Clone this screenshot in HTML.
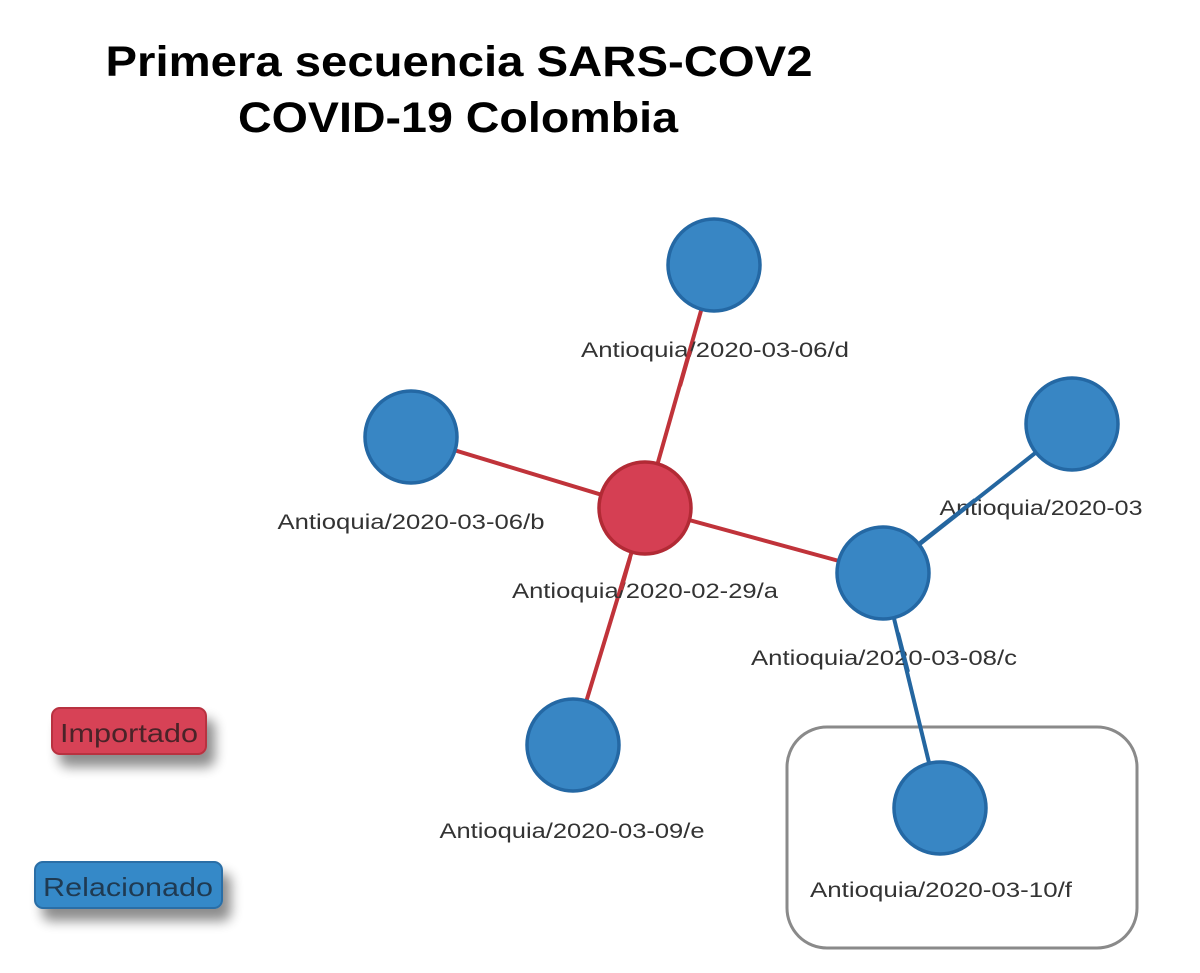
<!DOCTYPE html>
<html><head><meta charset="utf-8"><style>
html,body{margin:0;padding:0;background:#fff;width:1200px;height:973px;overflow:hidden}
svg{display:block}
text{font-family:"Liberation Sans",sans-serif}
</style></head><body>
<svg width="1200" height="973" viewBox="0 0 1200 973" xmlns="http://www.w3.org/2000/svg">
<defs>
<filter id="sh" x="-30%" y="-50%" width="170%" height="250%">
<feGaussianBlur in="SourceAlpha" stdDeviation="6"/>
<feOffset dx="8" dy="12"/>
<feComponentTransfer><feFuncA type="linear" slope="0.45"/></feComponentTransfer>
<feMerge><feMergeNode/><feMergeNode in="SourceGraphic"/></feMerge>
</filter>
</defs>
<text x="459" y="76" font-size="43" font-weight="bold" text-anchor="middle" textLength="707" lengthAdjust="spacingAndGlyphs">Primera secuencia  SARS-COV2</text>
<text x="458" y="132" font-size="43" font-weight="bold" text-anchor="middle" textLength="440" lengthAdjust="spacingAndGlyphs">COVID-19 Colombia</text>

<rect x="787" y="727" width="350" height="221" rx="40" fill="none" stroke="#8a8a8a" stroke-width="3"/>

<g stroke-width="4">
<line x1="645" y1="508" x2="714" y2="265" stroke="#c0333a"/>
<line x1="645" y1="508" x2="411" y2="437" stroke="#c0333a"/>
<line x1="645" y1="508" x2="883" y2="573" stroke="#c0333a"/>
<line x1="645" y1="508" x2="573" y2="745" stroke="#c0333a"/>
<line x1="883" y1="573" x2="1072" y2="424" stroke="#2466a0"/>
<line x1="883" y1="573" x2="940" y2="808" stroke="#2466a0"/>
</g>

<g font-size="21" fill="#333" text-anchor="middle">
<text x="715" y="357" textLength="268" lengthAdjust="spacingAndGlyphs">Antioquia/2020-03-06/d</text>
<text x="411" y="529" textLength="267" lengthAdjust="spacingAndGlyphs">Antioquia/2020-03-06/b</text>
<text x="645" y="598" textLength="266" lengthAdjust="spacingAndGlyphs">Antioquia/2020-02-29/a</text>
<text x="1041" y="515" textLength="203" lengthAdjust="spacingAndGlyphs">Antioquia/2020-03</text>
<text x="884" y="665" textLength="266" lengthAdjust="spacingAndGlyphs">Antioquia/2020-03-08/c</text>
<text x="572" y="838" textLength="265" lengthAdjust="spacingAndGlyphs">Antioquia/2020-03-09/e</text>
<text x="941" y="897" textLength="262" lengthAdjust="spacingAndGlyphs">Antioquia/2020-03-10/f</text>
</g>
<g stroke-width="4">
<line x1="680" y1="386" x2="690" y2="351" stroke="#c0333a"/>
<line x1="630" y1="558" x2="621" y2="590" stroke="#c0333a"/>
<line x1="920" y1="543" x2="975" y2="500" stroke="#2466a0"/>
<line x1="898" y1="633" x2="908" y2="672" stroke="#2466a0"/>
</g>

<g stroke-width="3.5" fill="#3886c4" stroke="#2468a4">
<circle cx="714" cy="265" r="46"/>
<circle cx="411" cy="437" r="46"/>
<circle cx="1072" cy="424" r="46"/>
<circle cx="883" cy="573" r="46"/>
<circle cx="573" cy="745" r="46"/>
<circle cx="940" cy="808" r="46"/>
</g>
<circle cx="645" cy="508" r="46" fill="#d53f53" stroke="#b22a35" stroke-width="3.5"/>

<g filter="url(#sh)">
<rect x="52" y="708" width="154" height="46" rx="8" fill="#d74256" stroke="#b8303f" stroke-width="2"/>
<rect x="35" y="862" width="187" height="46" rx="8" fill="#3589c8" stroke="#2a6ea6" stroke-width="2"/>
</g>
<text x="129" y="742" font-size="26" fill="#4a2328" text-anchor="middle" textLength="138" lengthAdjust="spacingAndGlyphs">Importado</text>
<text x="128" y="896" font-size="26" fill="#1f3a52" text-anchor="middle" textLength="170" lengthAdjust="spacingAndGlyphs">Relacionado</text>
</svg>
</body></html>
